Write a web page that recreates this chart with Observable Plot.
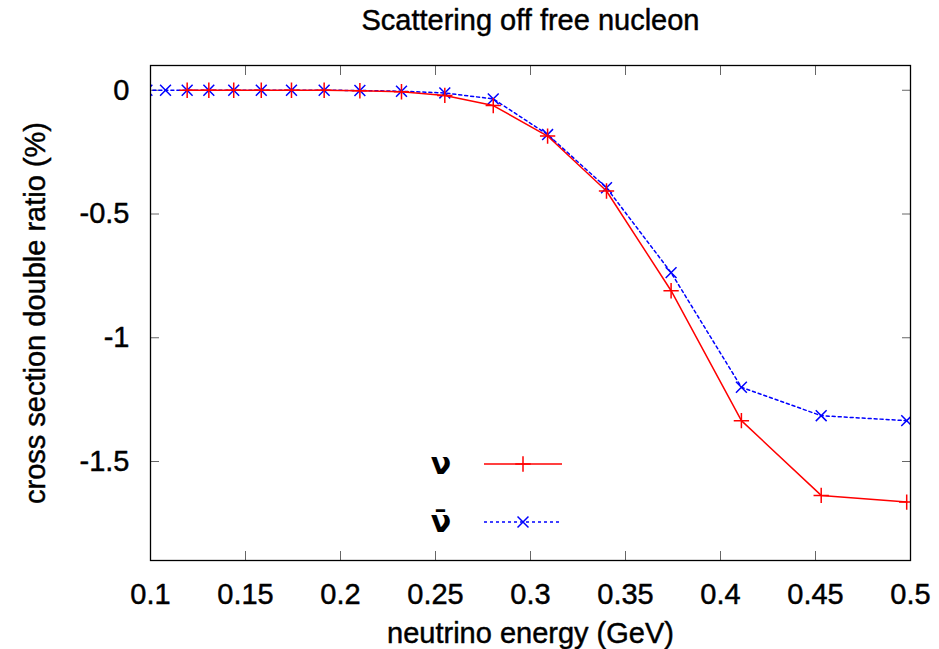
<!DOCTYPE html>
<html>
<head>
<meta charset="utf-8">
<script src="https://cdn.jsdelivr.net/npm/d3@7"></script>
<script src="https://cdn.jsdelivr.net/npm/@observablehq/plot@0.6"></script>
<style>
  html, body { margin: 0; padding: 0; background: #fff; }
  #chart svg { display: block; }
</style>
</head>
<body>
<div id="chart"></div>
<script>
// ---- data ----
const title = "Scattering off free nucleon";
const xLabel = "neutrino energy (GeV)";
const yLabel = "cross section double ratio (%)";

// neutrino (nu) – red, "+" markers
const nuEnergy = [0.1193, 0.1307, 0.1438, 0.1583, 0.1742, 0.1914, 0.2102, 0.2321, 0.2549, 0.2804, 0.309, 0.340, 0.374, 0.411, 0.453, 0.498];
const nuRatio  = [0, 0, 0, 0, 0, 0, -0.002, -0.006, -0.021, -0.062, -0.185, -0.407, -0.810, -1.335, -1.637, -1.664];

// anti-neutrino (nu-bar) – blue, "x" markers, dotted
const nubarEnergy = [0.0981, 0.1079, 0.1193, 0.1307, 0.1438, 0.1583, 0.1742, 0.1914, 0.2102, 0.2321, 0.2549, 0.2804, 0.309, 0.340, 0.374, 0.411, 0.453, 0.498];
const nubarRatio  = [0, 0, 0, 0, 0, 0, 0, 0, -0.001, -0.004, -0.011, -0.035, -0.179, -0.394, -0.737, -1.200, -1.315, -1.335];

const xTicks = [0.1, 0.15, 0.2, 0.25, 0.3, 0.35, 0.4, 0.45, 0.5];
const yTicks = [0, -0.5, -1, -1.5];
const seriesNames = ["ν", "ν̄"];

// ---- build tables ----
const nu = nuEnergy.map((e, i) => ({e, r: nuRatio[i]}));
const nubar = nubarEnergy.map((e, i) => ({e, r: nubarRatio[i]}));

const FONT = "'Liberation Sans', Arial, sans-serif";
const FS = 29;
const RED = "#ff0000", BLUE = "#0000ff", TICK = "#666";
const txt = {fontSize: FS, fill: "#000", stroke: "#000", strokeWidth: 0.45, fontFamily: FONT};

const plot = Plot.plot({
  width: 939,
  height: 649,
  marginLeft: 150,
  marginRight: 29,
  marginTop: 65,
  marginBottom: 89,
  style: {fontFamily: FONT, background: "#fff"},
  x: {domain: [0.1, 0.5], axis: null},
  y: {domain: [-1.9, 0.1], axis: null},
  marks: [
    // inward ticks on all four sides
    Plot.axisX(xTicks, {anchor: "bottom", tickSize: -9, text: null, label: null, stroke: TICK}),
    Plot.axisX(xTicks, {anchor: "top", tickSize: -9, text: null, label: null, stroke: TICK}),
    Plot.axisY(yTicks, {anchor: "left", tickSize: -9, text: null, label: null, stroke: TICK}),
    Plot.axisY(yTicks, {anchor: "right", tickSize: -9, text: null, label: null, stroke: TICK}),
    // tick labels
    Plot.text(xTicks, {x: d => d, frameAnchor: "bottom", lineAnchor: "middle", dy: 34, text: d => String(d), ...txt}),
    Plot.text(yTicks, {y: d => d, frameAnchor: "left", dx: -21, textAnchor: "end", text: d => String(d), ...txt}),
    // series
    Plot.line(nubar, {x: "e", y: "r", stroke: BLUE, strokeWidth: 1.5, strokeDasharray: "3,3", clip: true}),
    Plot.dot(nubar, {x: "e", y: "r", symbol: "times", r: 5, stroke: BLUE, strokeWidth: 1.5, clip: true}),
    Plot.line(nu, {x: "e", y: "r", stroke: RED, strokeWidth: 1.5, clip: true}),
    Plot.dot(nu, {x: "e", y: "r", symbol: "plus", r: 5, stroke: RED, strokeWidth: 1.5, clip: true}),
    // frame
    Plot.frame({stroke: "#000", strokeWidth: 1.3}),
    // title and axis labels
    Plot.text([title], {frameAnchor: "top", lineAnchor: "middle", dy: -45, ...txt}),
    Plot.text([xLabel], {frameAnchor: "bottom", lineAnchor: "middle", dy: 73, ...txt}),
    Plot.text([yLabel], {frameAnchor: "left", textAnchor: "middle", lineAnchor: "middle", dx: -115, rotate: -90, ...txt})
  ]
});

// ---- legend (inside the frame, lower middle) ----
const svg = d3.select(plot);
const lg = svg.append("g");
const entries = [
  {name: seriesNames[0], color: RED, dash: null, sym: d3.symbolPlus, y: 464},
  {name: seriesNames[1], color: BLUE, dash: "3,3", sym: d3.symbolTimes, y: 522}
];
for (const en of entries) {
  lg.append("text").attr("x", 441).attr("y", en.y).attr("dy", "0.32em")
    .attr("text-anchor", "middle").attr("font-size", 30).attr("font-family", "'DejaVu Sans', sans-serif")
    .attr("font-weight", "bold").text(en.name);
  lg.append("line").attr("x1", 484).attr("x2", 562).attr("y1", en.y).attr("y2", en.y)
    .attr("stroke", en.color).attr("stroke-width", 1.5).attr("stroke-dasharray", en.dash);
  lg.append("path").attr("d", d3.symbol(en.sym, 80)()).attr("transform", `translate(523,${en.y})`)
    .attr("fill", "none").attr("stroke", en.color).attr("stroke-width", 1.5);
}

document.getElementById("chart").appendChild(plot);
</script>
</body>
</html>
